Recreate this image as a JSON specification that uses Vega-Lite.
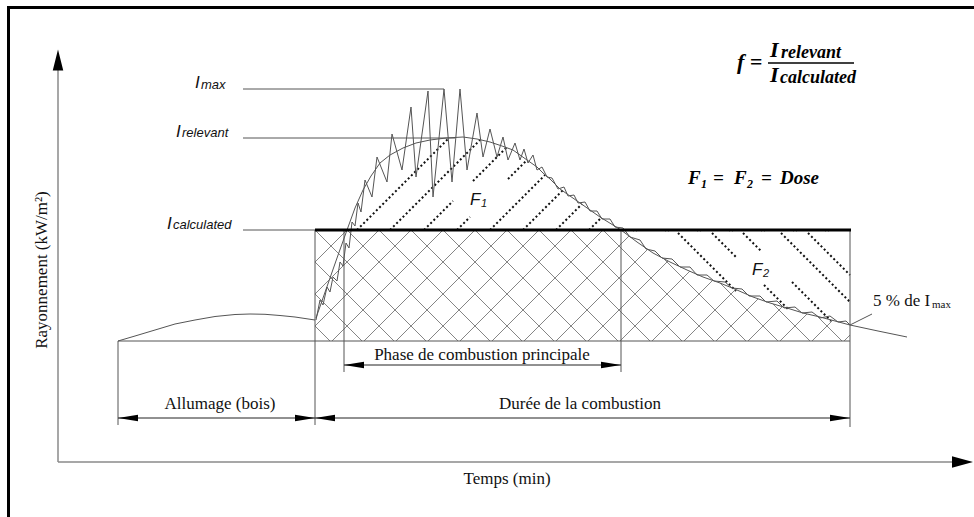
{
  "$schema": "https://vega.github.io/schema/vega-lite/v6.json",
  "width": 974,
  "height": 517,
  "autosize": "none",
  "padding": 0,
  "background": "white",
  "config": {"view": {"stroke": null}},
  "encoding": {
    "x": {"field": "x", "type": "quantitative", "scale": {"domain": [0, 974], "nice": false, "zero": false}, "axis": null},
    "y": {"field": "y", "type": "quantitative", "scale": {"domain": [0, 517], "reverse": true, "nice": false, "zero": false}, "axis": null}
  },
  "layer": [
    {
      "data": {"values": [
        {"x": 315, "y": 326, "x2": 330, "y2": 341}, {"x": 315, "y": 294, "x2": 362, "y2": 341}, {"x": 315, "y": 262, "x2": 394, "y2": 341},
        {"x": 315, "y": 230, "x2": 426, "y2": 341}, {"x": 347, "y": 230, "x2": 458, "y2": 341}, {"x": 379, "y": 230, "x2": 490, "y2": 341},
        {"x": 411, "y": 230, "x2": 522, "y2": 341}, {"x": 443, "y": 230, "x2": 554, "y2": 341}, {"x": 475, "y": 230, "x2": 586, "y2": 341},
        {"x": 507, "y": 230, "x2": 618, "y2": 341}, {"x": 539, "y": 230, "x2": 650, "y2": 341}, {"x": 571, "y": 230, "x2": 682, "y2": 341},
        {"x": 603, "y": 230, "x2": 714, "y2": 341}, {"x": 635, "y": 230, "x2": 746, "y2": 341}, {"x": 667, "y": 230, "x2": 778, "y2": 341},
        {"x": 699, "y": 230, "x2": 810, "y2": 341}, {"x": 731, "y": 230, "x2": 842, "y2": 341}, {"x": 763, "y": 230, "x2": 850, "y2": 317},
        {"x": 795, "y": 230, "x2": 850, "y2": 285}, {"x": 827, "y": 230, "x2": 850, "y2": 253},
        {"x": 315, "y": 262, "x2": 347, "y2": 230}, {"x": 315, "y": 294, "x2": 379, "y2": 230}, {"x": 315, "y": 326, "x2": 411, "y2": 230},
        {"x": 332, "y": 341, "x2": 443, "y2": 230}, {"x": 364, "y": 341, "x2": 475, "y2": 230}, {"x": 396, "y": 341, "x2": 507, "y2": 230},
        {"x": 428, "y": 341, "x2": 539, "y2": 230}, {"x": 460, "y": 341, "x2": 571, "y2": 230}, {"x": 492, "y": 341, "x2": 603, "y2": 230},
        {"x": 524, "y": 341, "x2": 635, "y2": 230}, {"x": 556, "y": 341, "x2": 667, "y2": 230}, {"x": 588, "y": 341, "x2": 699, "y2": 230},
        {"x": 620, "y": 341, "x2": 731, "y2": 230}, {"x": 652, "y": 341, "x2": 763, "y2": 230}, {"x": 684, "y": 341, "x2": 795, "y2": 230},
        {"x": 716, "y": 341, "x2": 827, "y2": 230}, {"x": 748, "y": 341, "x2": 850, "y2": 239}, {"x": 780, "y": 341, "x2": 850, "y2": 271},
        {"x": 812, "y": 341, "x2": 850, "y2": 303}, {"x": 844, "y": 341, "x2": 850, "y2": 335}
      ]},
      "mark": {"type": "rule", "color": "#666666", "strokeWidth": 0.8},
      "encoding": {"x2": {"field": "x2"}, "y2": {"field": "y2"}}
    },
    {
      "data": {"name": "curves", "values": [
        {"c": "ign", "x": 118, "y": 341}, {"c": "ign", "x": 135, "y": 336}, {"c": "ign", "x": 155, "y": 330}, {"c": "ign", "x": 175, "y": 324},
        {"c": "ign", "x": 195, "y": 320}, {"c": "ign", "x": 215, "y": 316.5}, {"c": "ign", "x": 235, "y": 314.5}, {"c": "ign", "x": 250, "y": 314},
        {"c": "ign", "x": 265, "y": 314.3}, {"c": "ign", "x": 280, "y": 315.5}, {"c": "ign", "x": 295, "y": 317}, {"c": "ign", "x": 305, "y": 318.5},
        {"c": "ign", "x": 315, "y": 320},
        {"c": "smooth", "x": 316, "y": 318}, {"c": "smooth", "x": 323, "y": 298}, {"c": "smooth", "x": 330, "y": 278}, {"c": "smooth", "x": 337, "y": 258},
        {"c": "smooth", "x": 342, "y": 244}, {"c": "smooth", "x": 347, "y": 230}, {"c": "smooth", "x": 355, "y": 208}, {"c": "smooth", "x": 363, "y": 190},
        {"c": "smooth", "x": 371, "y": 176}, {"c": "smooth", "x": 380, "y": 163}, {"c": "smooth", "x": 390, "y": 155}, {"c": "smooth", "x": 403, "y": 148},
        {"c": "smooth", "x": 416, "y": 143}, {"c": "smooth", "x": 430, "y": 140}, {"c": "smooth", "x": 446, "y": 138}, {"c": "smooth", "x": 463, "y": 137},
        {"c": "smooth", "x": 477, "y": 139}, {"c": "smooth", "x": 490, "y": 142}, {"c": "smooth", "x": 502, "y": 146}, {"c": "smooth", "x": 513, "y": 150},
        {"c": "smooth", "x": 527, "y": 160}, {"c": "smooth", "x": 537, "y": 167}, {"c": "smooth", "x": 543, "y": 173}, {"c": "smooth", "x": 550, "y": 179},
        {"c": "smooth", "x": 560, "y": 189}, {"c": "smooth", "x": 570, "y": 196}, {"c": "smooth", "x": 580, "y": 203}, {"c": "smooth", "x": 600, "y": 217},
        {"c": "smooth", "x": 621, "y": 230}, {"c": "smooth", "x": 637, "y": 242}, {"c": "smooth", "x": 653, "y": 253}, {"c": "smooth", "x": 670, "y": 262},
        {"c": "smooth", "x": 687, "y": 270}, {"c": "smooth", "x": 703, "y": 277}, {"c": "smooth", "x": 720, "y": 283}, {"c": "smooth", "x": 737, "y": 290},
        {"c": "smooth", "x": 753, "y": 297}, {"c": "smooth", "x": 770, "y": 303}, {"c": "smooth", "x": 787, "y": 308}, {"c": "smooth", "x": 803, "y": 313},
        {"c": "smooth", "x": 820, "y": 317}, {"c": "smooth", "x": 835, "y": 321}, {"c": "smooth", "x": 850, "y": 325}, {"c": "smooth", "x": 878, "y": 331},
        {"c": "smooth", "x": 907, "y": 337},
        {"c": "jag", "x": 316, "y": 320}, {"c": "jag", "x": 320, "y": 300}, {"c": "jag", "x": 323, "y": 305}, {"c": "jag", "x": 327, "y": 287},
        {"c": "jag", "x": 330, "y": 292}, {"c": "jag", "x": 333, "y": 277}, {"c": "jag", "x": 337, "y": 281}, {"c": "jag", "x": 340, "y": 262},
        {"c": "jag", "x": 343, "y": 266}, {"c": "jag", "x": 346, "y": 243}, {"c": "jag", "x": 349, "y": 248}, {"c": "jag", "x": 352, "y": 222},
        {"c": "jag", "x": 355, "y": 226}, {"c": "jag", "x": 358, "y": 203}, {"c": "jag", "x": 361, "y": 212}, {"c": "jag", "x": 365, "y": 180},
        {"c": "jag", "x": 372, "y": 197}, {"c": "jag", "x": 377, "y": 157}, {"c": "jag", "x": 387, "y": 182}, {"c": "jag", "x": 392, "y": 134},
        {"c": "jag", "x": 402, "y": 170}, {"c": "jag", "x": 411, "y": 107}, {"c": "jag", "x": 416, "y": 177}, {"c": "jag", "x": 428, "y": 91},
        {"c": "jag", "x": 433, "y": 197}, {"c": "jag", "x": 444, "y": 89}, {"c": "jag", "x": 452, "y": 182}, {"c": "jag", "x": 460, "y": 89},
        {"c": "jag", "x": 467, "y": 170}, {"c": "jag", "x": 477, "y": 113}, {"c": "jag", "x": 483, "y": 157}, {"c": "jag", "x": 490, "y": 129},
        {"c": "jag", "x": 497, "y": 157}, {"c": "jag", "x": 503, "y": 137}, {"c": "jag", "x": 508, "y": 160}, {"c": "jag", "x": 515, "y": 143},
        {"c": "jag", "x": 520, "y": 160}, {"c": "jag", "x": 524, "y": 149}, {"c": "jag", "x": 528, "y": 163}, {"c": "jag", "x": 533, "y": 155},
        {"c": "jag", "x": 537, "y": 170}, {"c": "jag", "x": 542, "y": 167}, {"c": "jag", "x": 547, "y": 177}, {"c": "jag", "x": 552, "y": 178},
        {"c": "jag", "x": 558, "y": 189}, {"c": "jag", "x": 564, "y": 187}, {"c": "jag", "x": 568, "y": 196}, {"c": "jag", "x": 574, "y": 195},
        {"c": "jag", "x": 578, "y": 203}, {"c": "jag", "x": 585, "y": 202}, {"c": "jag", "x": 590, "y": 211}, {"c": "jag", "x": 597, "y": 211},
        {"c": "jag", "x": 602, "y": 219}, {"c": "jag", "x": 610, "y": 219}, {"c": "jag", "x": 615, "y": 227}, {"c": "jag", "x": 623, "y": 228},
        {"c": "jag", "x": 630, "y": 237}, {"c": "jag", "x": 640, "y": 240}, {"c": "jag", "x": 646, "y": 249}, {"c": "jag", "x": 655, "y": 251},
        {"c": "jag", "x": 662, "y": 258}, {"c": "jag", "x": 672, "y": 259}, {"c": "jag", "x": 680, "y": 267}, {"c": "jag", "x": 690, "y": 267},
        {"c": "jag", "x": 697, "y": 275}, {"c": "jag", "x": 707, "y": 275}, {"c": "jag", "x": 714, "y": 281}, {"c": "jag", "x": 725, "y": 282},
        {"c": "jag", "x": 732, "y": 288}, {"c": "jag", "x": 742, "y": 289}, {"c": "jag", "x": 749, "y": 296}, {"c": "jag", "x": 760, "y": 296},
        {"c": "jag", "x": 766, "y": 302}, {"c": "jag", "x": 777, "y": 301}, {"c": "jag", "x": 784, "y": 308}, {"c": "jag", "x": 795, "y": 307},
        {"c": "jag", "x": 802, "y": 313}, {"c": "jag", "x": 812, "y": 312}, {"c": "jag", "x": 820, "y": 318}, {"c": "jag", "x": 830, "y": 316},
        {"c": "jag", "x": 838, "y": 322}, {"c": "jag", "x": 846, "y": 321}, {"c": "jag", "x": 850, "y": 325}
      ]},
      "transform": [{"filter": "datum.c == 'smooth' && datum.x >= 621 && datum.x <= 850"}],
      "mark": {"type": "area", "color": "white", "opacity": 1},
      "encoding": {"y2": {"datum": 231.5}}
    },
    {
      "data": {"values": [
        {"x": 357, "y": 230, "x2": 449, "y2": 138}, {"x": 390, "y": 230, "x2": 480, "y2": 140},
        {"x": 424, "y": 230, "x2": 453, "y2": 201}, {"x": 473, "y": 181, "x2": 507, "y2": 147},
        {"x": 457, "y": 230, "x2": 470, "y2": 217}, {"x": 508, "y": 179, "x2": 527, "y2": 160},
        {"x": 490, "y": 230, "x2": 545, "y2": 175}, {"x": 523, "y": 230, "x2": 563, "y2": 190},
        {"x": 556, "y": 230, "x2": 582, "y2": 204}, {"x": 589, "y": 230, "x2": 601, "y2": 218},
        {"x": 678, "y": 233, "x2": 736, "y2": 291}, {"x": 712, "y": 233, "x2": 737, "y2": 258},
        {"x": 764, "y": 285, "x2": 789, "y2": 310}, {"x": 743, "y": 233, "x2": 762, "y2": 252},
        {"x": 792, "y": 282, "x2": 831, "y2": 321}, {"x": 781, "y": 233, "x2": 850, "y2": 302},
        {"x": 808, "y": 233, "x2": 850, "y2": 275}
      ]},
      "mark": {"type": "rule", "color": "#111111", "strokeWidth": 2, "strokeDash": [2, 2.5]},
      "encoding": {"x2": {"field": "x2"}, "y2": {"field": "y2"}}
    },
    {
      "data": {"name": "curves"},
      "mark": {"type": "line", "color": "#555555", "strokeWidth": 1},
      "encoding": {"detail": {"field": "c"}}
    },
    {
      "data": {"values": [
        {"x": 243, "y": 89, "x2": 444, "y2": 89}, {"x": 243, "y": 138, "x2": 455, "y2": 138},
        {"x": 243, "y": 230, "x2": 315, "y2": 230}, {"x": 118, "y": 341, "x2": 850, "y2": 341},
        {"x": 118, "y": 341, "x2": 118, "y2": 425}, {"x": 315, "y": 230, "x2": 315, "y2": 425},
        {"x": 344, "y": 230, "x2": 344, "y2": 372}, {"x": 621, "y": 230, "x2": 621, "y2": 372},
        {"x": 850, "y": 230, "x2": 850, "y2": 427}, {"x": 850, "y": 325, "x2": 872, "y2": 314}
      ]},
      "mark": {"type": "rule", "color": "#555555", "strokeWidth": 1},
      "encoding": {"x2": {"field": "x2"}, "y2": {"field": "y2"}}
    },
    {
      "data": {"values": [
        {"x": 118, "y": 418, "x2": 850, "y2": 418}, {"x": 344, "y": 365, "x2": 621, "y2": 365}
      ]},
      "mark": {"type": "rule", "color": "#222222", "strokeWidth": 1},
      "encoding": {"x2": {"field": "x2"}, "y2": {"field": "y2"}}
    },
    {
      "data": {"values": [
        {"x": 58, "y": 462, "x2": 58, "y2": 70}, {"x": 58, "y": 462, "x2": 953, "y2": 462}
      ]},
      "mark": {"type": "rule", "color": "#8a8a8a", "strokeWidth": 1.5},
      "encoding": {"x2": {"field": "x2"}, "y2": {"field": "y2"}}
    },
    {
      "data": {"values": [
        {"x": 8, "y": 7.5, "x2": 974, "y2": 7.5}, {"x": 8.5, "y": 6, "x2": 8.5, "y2": 517}
      ]},
      "mark": {"type": "rule", "color": "#000000", "strokeWidth": 3},
      "encoding": {"x2": {"field": "x2"}, "y2": {"field": "y2"}}
    },
    {
      "data": {"values": [
        {"x": 315, "y": 230, "x2": 851, "y2": 230}
      ]},
      "mark": {"type": "rule", "color": "#000000", "strokeWidth": 2.8},
      "encoding": {"x2": {"field": "x2"}, "y2": {"field": "y2"}}
    },
    {
      "data": {"values": [
        {"x": 768, "y": 63, "x2": 854, "y2": 63}
      ]},
      "mark": {"type": "rule", "color": "#000000", "strokeWidth": 1.6},
      "encoding": {"x2": {"field": "x2"}, "y2": {"field": "y2"}}
    },
    {
      "data": {"values": [
        {"x": 128, "y": 418, "dir": "left"}, {"x": 305, "y": 418, "dir": "right"},
        {"x": 325, "y": 418, "dir": "left"}, {"x": 840, "y": 418, "dir": "right"},
        {"x": 354, "y": 365, "dir": "left"}, {"x": 611, "y": 365, "dir": "right"}
      ]},
      "mark": {"type": "point", "filled": true, "opacity": 1, "color": "#000000", "size": 400, "strokeWidth": 0},
      "encoding": {"shape": {"field": "dir", "type": "nominal", "legend": null,
        "scale": {"domain": ["left", "right", "up", "east"], "range": ["M-1,0L1,-0.32L1,0.32Z", "M1,0L-1,-0.32L-1,0.32Z", "M0,-1L0.5,1L-0.5,1Z", "M1,0L-1,-0.55L-1,0.55Z"]}}}
    },
    {
      "data": {"values": [
        {"x": 58, "y": 60, "dir": "up"}, {"x": 962.5, "y": 462, "dir": "east"}
      ]},
      "mark": {"type": "point", "filled": true, "opacity": 1, "color": "#000000", "size": 441, "strokeWidth": 0},
      "encoding": {"shape": {"field": "dir", "type": "nominal", "legend": null}}
    },
    {
      "data": {"values": [
        {"x": 220, "y": 409, "t": "Allumage (bois)"}, {"x": 580, "y": 409, "t": "Durée de la combustion"},
        {"x": 482, "y": 360, "t": "Phase de combustion principale"}, {"x": 507, "y": 484, "t": "Temps (min)"}
      ]},
      "mark": {"type": "text", "font": "Liberation Serif", "fontSize": 17, "align": "center", "baseline": "alphabetic", "color": "#111111"},
      "encoding": {"text": {"field": "t"}}
    },
    {
      "data": {"values": [{"x": 873, "y": 306, "t": "5 % de I"}]},
      "mark": {"type": "text", "font": "Liberation Serif", "fontSize": 17, "align": "left", "baseline": "alphabetic", "color": "#111111"},
      "encoding": {"text": {"field": "t"}}
    },
    {
      "data": {"values": [{"x": 932, "y": 308, "t": "max"}]},
      "mark": {"type": "text", "font": "Liberation Serif", "fontSize": 11, "align": "left", "baseline": "alphabetic", "color": "#111111"},
      "encoding": {"text": {"field": "t"}}
    },
    {
      "data": {"values": [{"x": 42, "y": 270, "t": "Rayonnement (kW/m²)"}]},
      "mark": {"type": "text", "font": "Liberation Serif", "fontSize": 17, "align": "center", "baseline": "middle", "angle": 270, "color": "#111111"},
      "encoding": {"text": {"field": "t"}}
    },
    {
      "data": {"values": [
        {"x": 195, "y": 88, "t": "I"}, {"x": 176, "y": 137, "t": "I"}, {"x": 167, "y": 229, "t": "I"},
        {"x": 470, "y": 205, "t": "F"}, {"x": 752, "y": 275, "t": "F"}
      ]},
      "mark": {"type": "text", "font": "Liberation Sans", "fontSize": 17, "fontStyle": "italic", "align": "left", "baseline": "alphabetic", "color": "#111111"},
      "encoding": {"text": {"field": "t"}}
    },
    {
      "data": {"values": [
        {"x": 201, "y": 89, "t": "max"}, {"x": 182, "y": 137, "t": "relevant"}, {"x": 173, "y": 229, "t": "calculated"}
      ]},
      "mark": {"type": "text", "font": "Liberation Sans", "fontSize": 13, "fontStyle": "italic", "align": "left", "baseline": "alphabetic", "color": "#111111"},
      "encoding": {"text": {"field": "t"}}
    },
    {
      "data": {"values": [
        {"x": 481, "y": 207, "t": "1"}, {"x": 763, "y": 277, "t": "2"}
      ]},
      "mark": {"type": "text", "font": "Liberation Sans", "fontSize": 11, "fontStyle": "italic", "align": "left", "baseline": "alphabetic", "color": "#111111"},
      "encoding": {"text": {"field": "t"}}
    },
    {
      "data": {"values": [
        {"x": 737, "y": 69, "t": "f ="}, {"x": 770, "y": 57, "t": "I"}, {"x": 770, "y": 82, "t": "I"}
      ]},
      "mark": {"type": "text", "font": "Liberation Serif", "fontSize": 22, "fontStyle": "italic", "fontWeight": "bold", "align": "left", "baseline": "alphabetic", "color": "#000000"},
      "encoding": {"text": {"field": "t"}}
    },
    {
      "data": {"values": [
        {"x": 781, "y": 58, "t": "relevant"}, {"x": 780, "y": 83, "t": "calculated"}
      ]},
      "mark": {"type": "text", "font": "Liberation Serif", "fontSize": 18, "fontStyle": "italic", "fontWeight": "bold", "align": "left", "baseline": "alphabetic", "color": "#000000"},
      "encoding": {"text": {"field": "t"}}
    },
    {
      "data": {"values": [
        {"x": 688, "y": 184, "t": "F"}, {"x": 713, "y": 184, "t": "="}, {"x": 734, "y": 184, "t": "F"},
        {"x": 761, "y": 184, "t": "="}, {"x": 780, "y": 184, "t": "Dose"}
      ]},
      "mark": {"type": "text", "font": "Liberation Serif", "fontSize": 19, "fontStyle": "italic", "fontWeight": "bold", "align": "left", "baseline": "alphabetic", "color": "#000000"},
      "encoding": {"text": {"field": "t"}}
    },
    {
      "data": {"values": [
        {"x": 701, "y": 188, "t": "1"}, {"x": 747, "y": 188, "t": "2"}
      ]},
      "mark": {"type": "text", "font": "Liberation Serif", "fontSize": 12, "fontStyle": "italic", "fontWeight": "bold", "align": "left", "baseline": "alphabetic", "color": "#000000"},
      "encoding": {"text": {"field": "t"}}
    }
  ]
}
